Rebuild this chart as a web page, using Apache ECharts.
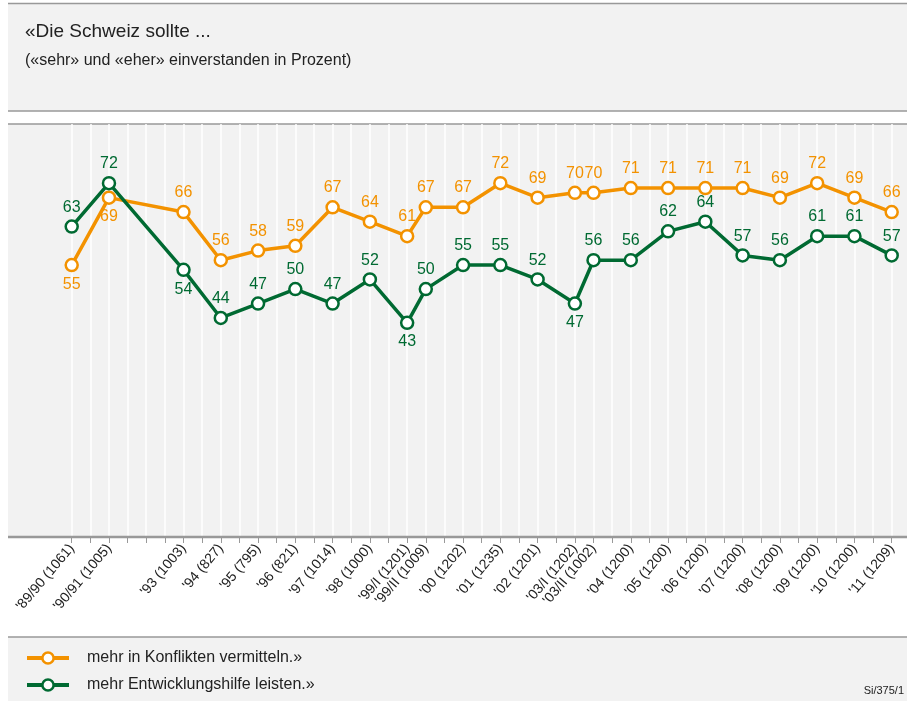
<!DOCTYPE html>
<html>
<head>
<meta charset="utf-8">
<script src="https://cdn.jsdelivr.net/npm/echarts@6/dist/echarts.min.js"></script>
<style>
  html, body { margin: 0; padding: 0; background: #fff; }
  #main { width: 907px; height: 701px; }
</style>
</head>
<body>
<div id="main"></div>
<script>
// survey waves, position on the half-year axis (0 = '89/90)
var waveLabels = ["'89/90 (1061)", "'90/91 (1005)", "'93 (1003)", "'94 (827)", "'95 (795)", "'96 (821)",
    "'97 (1014)", "'98 (1000)", "'99/I (1201)", "'99/II (1009)", "'00 (1202)", "'01 (1235)", "'02 (1201)",
    "'03/I (1202)", "'03/II (1002)", "'04 (1200)", "'05 (1200)", "'06 (1200)", "'07 (1200)", "'08 (1200)",
    "'09 (1200)", "'10 (1200)", "'11 (1209)"];
var wavePos = [0, 2, 6, 8, 10, 12, 14, 16, 18, 19, 21, 23, 25, 27, 28, 30, 32, 34, 36, 38, 40, 42, 44];

var konflikte = [55, 69, 66, 56, 58, 59, 67, 64, 61, 67, 67, 72, 69, 70, 70, 71, 71, 71, 71, 69, 72, 69, 66];
var entwicklung = [63, 72, 54, 44, 47, 50, 47, 52, 43, 50, 55, 55, 52, 47, 56, 56, 62, 64, 57, 56, 61, 61, 57];

var ORANGE = '#f39200';
var GREEN = '#006a32';
var FONT = 'Liberation Sans, Arial, sans-serif';

// which labels sit under the point instead of above it
var orangeBelow = [0, 1];
var greenBelow = [2, 8, 13];

function buildData(values, below) {
    return values.map(function (v, i) {
        var item = { value: [wavePos[i], v] };
        if (below.indexOf(i) >= 0) item.label = { position: 'bottom' };
        return item;
    });
}

var labelByPos = {};
wavePos.forEach(function (p, i) { labelByPos[p] = waveLabels[i]; });

function lineSeries(name, color, values, below) {
    return {
        name: name,
        type: 'line',
        data: buildData(values, below),
        symbol: 'circle',
        symbolSize: 12,
        lineStyle: { color: color, width: 3.5 },
        itemStyle: { color: '#fff', borderColor: color, borderWidth: 2.5 },
        label: {
            show: true,
            position: 'top',
            distance: 4,
            color: color,
            fontSize: 16,
            fontFamily: FONT,
            formatter: function (p) { return p.value[1]; }
        },
        emphasis: { disabled: true },
        animation: false
    };
}

var chart = echarts.init(document.getElementById('main'));
chart.setOption({
    backgroundColor: '#fff',
    animation: false,
    graphic: [
        // header box
        { type: 'rect', z: -10, shape: { x: 8, y: 3, width: 899, height: 108 }, style: { fill: '#f2f2f2' } },
        { type: 'line', z: -9, shape: { x1: 8, y1: 3.5, x2: 907, y2: 3.5 }, style: { stroke: '#999', lineWidth: 1.5 } },
        { type: 'line', z: -9, shape: { x1: 8, y1: 111, x2: 907, y2: 111 }, style: { stroke: '#999', lineWidth: 1.5 } },
        { type: 'text', left: 25, top: 22, style: { text: '«Die Schweiz sollte ...', fill: '#222', font: '19px ' + FONT } },
        { type: 'text', left: 25, top: 53, style: { text: '(«sehr» und «eher» einverstanden in Prozent)', fill: '#222', font: '16px ' + FONT } },
        // plot background
        { type: 'rect', z: -10, shape: { x: 8, y: 124, width: 899, height: 413 }, style: { fill: '#f2f2f2' } },
        { type: 'line', z: -9, shape: { x1: 8, y1: 124, x2: 907, y2: 124 }, style: { stroke: '#999', lineWidth: 1.5 } },
        { type: 'line', z: 5, shape: { x1: 8, y1: 537, x2: 907, y2: 537 }, style: { stroke: '#999', lineWidth: 2.5 } },
        // legend box
        { type: 'rect', z: -10, shape: { x: 8, y: 637, width: 899, height: 64 }, style: { fill: '#f2f2f2' } },
        { type: 'line', z: -9, shape: { x1: 8, y1: 637, x2: 907, y2: 637 }, style: { stroke: '#999', lineWidth: 1.5 } },
        { type: 'text', right: 3, top: 685, style: { text: 'Si/375/1', fill: '#222', font: '11px ' + FONT } }
    ],
    grid: { left: 71.7, right: 15.3, top: 124, bottom: 164 },
    xAxis: {
        type: 'value',
        min: 0,
        max: 44,
        interval: 1,
        axisLine: { show: false, onZero: false },
        axisTick: { show: true, inside: false, length: 6, lineStyle: { color: '#999', width: 1 } },
        splitLine: { show: true, lineStyle: { color: '#fff', width: 1.5 } },
        axisLabel: {
            rotate: 50,
            margin: 9,
            fontSize: 14,
            color: '#222',
            fontFamily: FONT,
            hideOverlap: false,
            formatter: function (v) { return labelByPos[v] || ''; }
        }
    },
    yAxis: {
        type: 'value',
        min: -1.5,
        max: 84.3,
        show: false,
        splitLine: { show: false }
    },
    legend: {
        orient: 'vertical',
        left: 25,
        top: 650,
        padding: 0,
        itemWidth: 42,
        itemHeight: 14,
        itemGap: 11,
        lineStyle: { width: 4 },
        itemStyle: { borderWidth: 2.5 },
        textStyle: { fontSize: 16, color: '#222', fontFamily: FONT, padding: [0, 0, 0, 13] },
        data: ['mehr in Konflikten vermitteln.»', 'mehr Entwicklungshilfe leisten.»']
    },
    series: [
        lineSeries('mehr in Konflikten vermitteln.»', ORANGE, konflikte, orangeBelow),
        lineSeries('mehr Entwicklungshilfe leisten.»', GREEN, entwicklung, greenBelow)
    ]
});
</script>
</body>
</html>
